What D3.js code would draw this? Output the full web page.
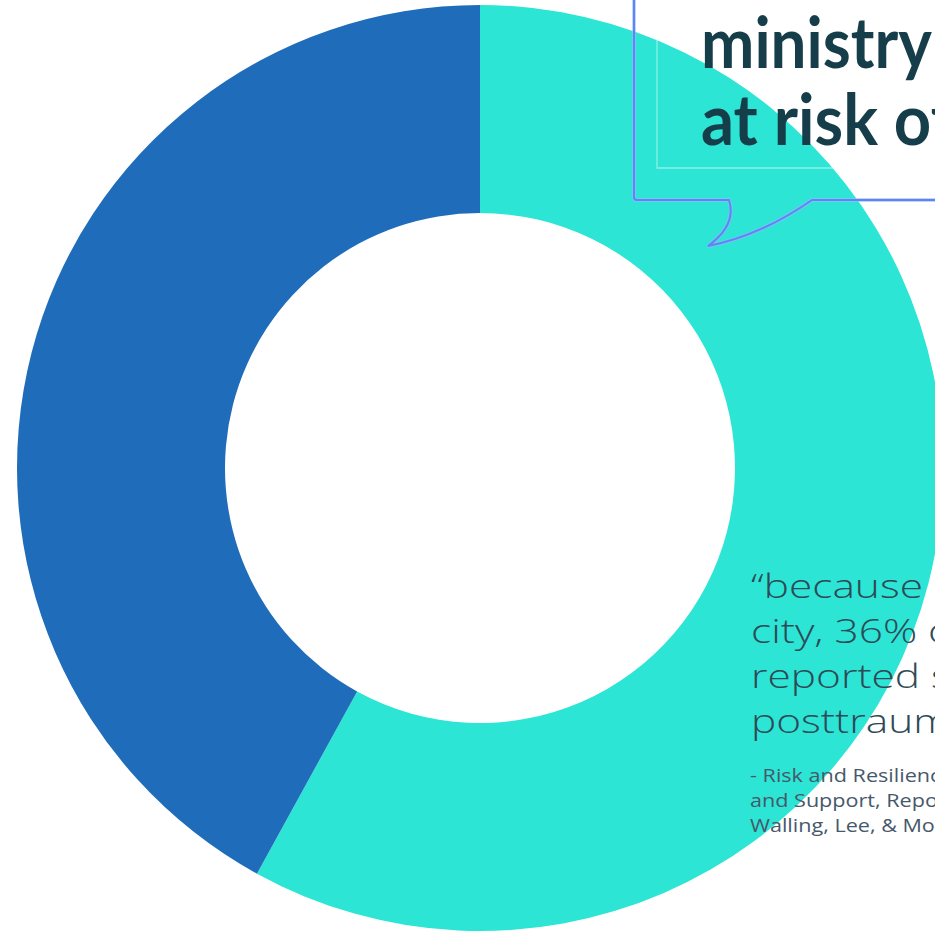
<!DOCTYPE html>
<html>
<head>
<meta charset="utf-8">
<script src="https://cdn.jsdelivr.net/npm/d3@7"></script>
<style>
  html, body { margin: 0; padding: 0; background: #fff; overflow: hidden; }
</style>
</head>
<body>
<div id="chart"></div>
<script>
// slice shares, clockwise from 12 o'clock
const labels = ['teal', 'blue'];
const values = [58, 42];
const colors = ['#2ce5d4', '#1f6dba'];

const headline = ['ministry', 'at risk of'];
const quote = ['\u201cbecause of the', 'city, 36% of pastors', 'reported signs of', 'posttraumatic stress'];
const citation = ['- Risk and Resilience in Ministry', 'and Support, Report by', 'Walling, Lee, & Moore'];

const width = 935, height = 937;
const cx = 480, cy = 468;
const outerR = 463, innerR = 255;

const svg = d3.select('#chart').append('svg')
    .attr('width', width)
    .attr('height', height)
    .attr('viewBox', '0 0 ' + width + ' ' + height);

const pie = d3.pie().sort(null).value(d => d);
const arc = d3.arc().innerRadius(innerR).outerRadius(outerR);

svg.append('g')
    .attr('transform', 'translate(' + cx + ',' + cy + ')')
    .selectAll('path')
    .data(pie(values))
    .enter()
    .append('path')
    .attr('d', arc)
    .attr('fill', (d, i) => colors[i]);

// speech bubble callout, top right
const bubble = svg.append('g');
bubble.append('path')
    .attr('fill', 'none')
    .attr('stroke', '#9fb6ff')
    .attr('stroke-width', 4)
    .attr('stroke-opacity', 0.6)
    .attr('d', 'M634,-10 L634,197 Q634,200 637,200 L729,200 Q737,225 708,246 Q760,236 812,200 L945,200');
bubble.append('path')
    .attr('fill', 'none')
    .attr('stroke', '#5f84f5')
    .attr('stroke-width', 2)
    .attr('d', 'M634,-10 L634,197 Q634,200 637,200 L729,200 Q737,225 708,246 Q760,236 812,200 L945,200');
bubble.append('path')
    .attr('fill', 'none')
    .attr('stroke', 'rgba(255,255,255,0.45)')
    .attr('stroke-width', 1.3)
    .attr('d', 'M657,-10 L657,168 L945,168');

// width of a string in a given font
function measure(parent, str, opts) {
    const t = parent.append('text')
        .attr('font-family', opts.family)
        .attr('font-weight', opts.weight)
        .attr('font-size', opts.size)
        .text(str);
    const w = t.node().getComputedTextLength();
    t.remove();
    return w;
}

// lines of text stretched sideways so a probe string hits a target width
// (the original uses a much wider geometric face than anything installed)
function textBlock(parent, lines, opts) {
    const g = parent.append('g');
    const probes = Array.isArray(opts.probe) ? opts.probe : lines.map(() => opts.probe);
    const widths = Array.isArray(opts.probeWidth) ? opts.probeWidth : lines.map(() => opts.probeWidth);
    const scales = probes.map((p, i) => widths[i] / measure(g, p, opts));
    g.selectAll('text')
        .data(lines)
        .enter()
        .append('text')
        .attr('transform', (d, i) => 'translate(' + opts.x + ',' + (opts.y + i * opts.step) + ') scale(' + scales[i] + ',1)')
        .attr('font-family', opts.family)
        .attr('font-weight', opts.weight)
        .attr('font-size', opts.size)
        .attr('fill', opts.color)
        .text(d => d);
    return g;
}

textBlock(bubble, headline, {
    x: 701, y: 68, step: 77, size: 70, weight: 700,
    family: 'Lato, "Open Sans", sans-serif', color: '#163d4a',
    probe: ['ministry', 'at risk'], probeWidth: [231, 177]
});

textBlock(svg, quote, {
    x: 751, y: 598, step: 45, size: 33, weight: 300,
    family: '"Open Sans", Lato, sans-serif', color: '#2e4a57',
    probe: '\u201cbecause', probeWidth: 172
});

textBlock(svg, citation, {
    x: 750, y: 782, step: 25, size: 19, weight: 400,
    family: '"Open Sans", Lato, sans-serif', color: '#46586a',
    probe: 'Walling, Lee, & M', probeWidth: 172
});
</script>
</body>
</html>
